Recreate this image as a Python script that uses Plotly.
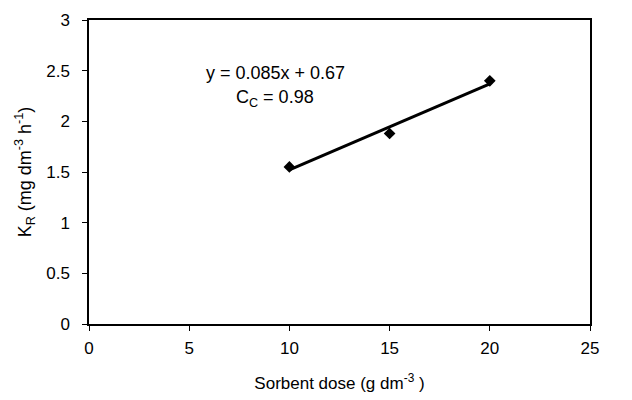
import plotly.graph_objects as go

dose = [10, 15, 20]
kr = [1.55, 1.88, 2.40]
slope = 0.085
intercept = 0.67
fit_x = [10, 20]
fit_y = [slope * x + intercept for x in fit_x]
x_ticks = [0, 5, 10, 15, 20, 25]
y_ticks = [0, 0.5, 1, 1.5, 2, 2.5, 3]

fig = go.Figure()
fig.add_trace(go.Scatter(x=fit_x, y=fit_y, mode="lines",
                         line=dict(color="black", width=3), showlegend=False))
fig.add_trace(go.Scatter(x=dose, y=kr, mode="markers",
                         marker=dict(symbol="diamond", size=9, color="black"), showlegend=False))

fig.add_annotation(x=9.3, y=2.48, xref="x", yref="y", text="y = 0.085x + 0.67",
                   showarrow=False, font=dict(size=18, color="black"))
fig.add_annotation(x=9.3, y=2.23, xref="x", yref="y", text="C<sub>C</sub> = 0.98",
                   showarrow=False, font=dict(size=18, color="black"))

font = dict(family="Liberation Sans, Arial, sans-serif", size=17, color="black")
fig.update_layout(
    width=624, height=392,
    margin=dict(l=81, r=42, t=12, b=76),
    paper_bgcolor="white", plot_bgcolor="white",
    font=font,
    xaxis=dict(range=[0, 25], tickvals=x_ticks, ticks="outside", ticklen=5, tickcolor="black",
               showline=True, linecolor="black", linewidth=1.5, mirror=True, showgrid=False,
               zeroline=False, automargin=False, ticklabelstandoff=3,
               title=dict(text="Sorbent dose (g dm<sup>-3</sup> )", font=dict(size=17), standoff=20)),
    yaxis=dict(range=[0, 3], tickvals=y_ticks, ticks="outside", ticklen=5, tickcolor="black",
               showline=True, linecolor="black", linewidth=1.5, mirror=True, showgrid=False,
               zeroline=False, automargin=False, ticklabelstandoff=9,
               title=dict(text="K<sub>R</sub> (mg dm<sup>-3</sup> h<sup>-1</sup>)", font=dict(size=18), standoff=10)),
)
fig.write_html("out.html")
